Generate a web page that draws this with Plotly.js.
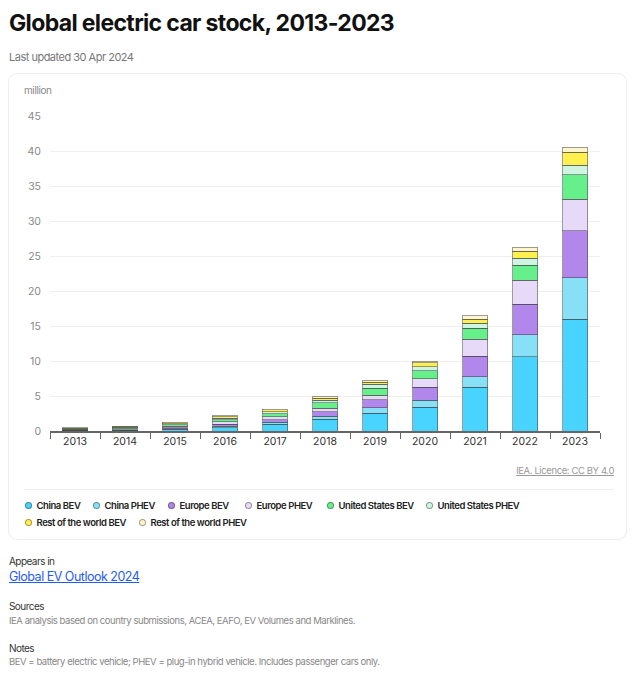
<!DOCTYPE html>
<html>
<head>
<meta charset="utf-8">
<script src="https://cdn.plot.ly/plotly-3.0.1.min.js"></script>
<style>
  html, body { margin:0; padding:0; background:#fff; width:635px; height:680px; overflow:hidden; font-family: Inter, "Noto Sans", sans-serif; }
  .abs { position:absolute; white-space:nowrap; }
  #title { left:9px; top:9px; font-size:23px; font-weight:700; color:#111; letter-spacing:-0.65px; }
  #sub { left:9px; top:50px; font-size:11px; color:#777; letter-spacing:-0.5px; }
  #card { left:8px; top:73px; width:619px; height:467px; border:1px solid #eee; border-radius:9px; box-sizing:border-box; }
  #unit { left:24px; top:84px; font-size:10px; color:#888; letter-spacing:-0.4px; }
  #chart { left:8px; top:100px; width:610px; height:360px; }
  #lic { right:21px; top:465px; font-size:9.5px; color:#999; text-decoration:underline; letter-spacing:-0.4px; }
  #sep { left:24px; top:489px; width:590px; height:1px; background:#eee; }
  .leg { font-size:9.5px; font-weight:600; color:#222; display:flex; align-items:center; letter-spacing:-0.45px; }
  .dot { width:7px; height:7px; border-radius:50%; border:1px solid rgba(0,0,0,0.35); margin-right:5px; box-sizing:border-box; }
  .h { font-size:10px; color:#333; letter-spacing:-0.55px; }
  .g { font-size:9.5px; color:#888; letter-spacing:-0.45px; }
  #link { left:9px; top:569px; font-size:12.5px; color:#1f5bf5; text-decoration:underline; letter-spacing:-0.5px; }
</style>
</head>
<body>
<div class="abs" id="title">Global electric car stock, 2013-2023</div>
<div class="abs" id="sub">Last updated 30 Apr 2024</div>
<div class="abs" id="card"></div>
<div class="abs" id="unit">million</div>
<div class="abs" id="chart"></div>
<div class="abs" id="lic">IEA. Licence: CC BY 4.0</div>
<div class="abs" id="sep"></div>
<div id="legend"></div>
<div class="abs h" style="left:9px;top:555px;">Appears in</div>
<div class="abs" id="link">Global EV Outlook 2024</div>
<div class="abs h" style="left:9px;top:600px;">Sources</div>
<div class="abs g" style="left:9px;top:615px;">IEA analysis based on country submissions, ACEA, EAFO, EV Volumes and Marklines.</div>
<div class="abs h" style="left:9px;top:642px;">Notes</div>
<div class="abs g" style="left:9px;top:656px;">BEV = battery electric vehicle; PHEV = plug-in hybrid vehicle. Includes passenger cars only.</div>
<script>
const years = ["2013","2014","2015","2016","2017","2018","2019","2020","2021","2022","2023"];
const seriesNames = ["China BEV","China PHEV","Europe BEV","Europe PHEV","United States BEV","United States PHEV","Rest of the world BEV","Rest of the world PHEV"];
const seriesColors = ["#48d4ff","#87e0f5","#b287eb","#e6daf8","#66f08c","#cdf5e1","#fff050","#fdf5cd"];
const chinaBEV   = [0.03,0.08,0.25,0.45,0.95,1.67,2.53,3.38,6.24,10.61,16.0];
const chinaPHEV  = [0.01,0.03,0.08,0.25,0.28,0.47,0.80,1.00,1.52,3.15,5.9];
const europeBEV  = [0.05,0.10,0.17,0.30,0.40,0.62,1.10,1.86,2.95,4.38,6.7];
const europePHEV = [0.05,0.10,0.18,0.30,0.40,0.48,0.71,1.19,2.43,3.39,4.5];
const usBEV      = [0.08,0.12,0.20,0.30,0.40,0.80,0.96,1.18,1.53,2.14,3.5];
const usPHEV     = [0.10,0.14,0.19,0.25,0.35,0.34,0.57,0.58,0.72,1.00,1.36];
const rowBEV     = [0.08,0.10,0.12,0.20,0.25,0.29,0.28,0.57,0.61,1.04,1.84];
const rowPHEV    = [0.03,0.04,0.06,0.10,0.10,0.19,0.29,0.24,0.47,0.53,0.73];
const seriesValues = [chinaBEV,chinaPHEV,europeBEV,europePHEV,usBEV,usPHEV,rowBEV,rowPHEV];
const yTicks = [0,5,10,15,20,25,30,35,40,45];

const traces = seriesNames.map((n,i)=>({
  type:'bar', name:n, x:years, y:seriesValues[i],
  marker:{color:seriesColors[i], line:{color:'rgba(60,60,60,0.5)', width:1}},
  width:0.5, hoverinfo:'x+y+name'
}));

Plotly.newPlot('chart', traces, {
  barmode:'stack', showlegend:false,
  width:610, height:360,
  margin:{l:42, r:18, t:16, b:29},
  paper_bgcolor:'rgba(0,0,0,0)', plot_bgcolor:'rgba(0,0,0,0)',
  font:{family:'Inter, "Noto Sans", sans-serif'},
  xaxis:{type:'category', tickson:'boundaries', ticks:'outside', ticklen:6, tickcolor:'#666', tickwidth:1,
         showline:true, linecolor:'#666', linewidth:1.5, showgrid:false,
         tickfont:{size:10.5, color:'#333'}},
  yaxis:{range:[0,45], tickvals:yTicks, showgrid:true, gridcolor:'#eeeeee', gridwidth:1,
         zeroline:false, showline:false, ticks:'', tickfont:{size:10.5, color:'#888'}, ticklabelstandoff:8}
}, {displayModeBar:false, staticPlot:true});

// legend
const legPos = [[24.5,500],[92.5,500],[167.5,500],[244.5,500],[326.5,500],[425.5,500],[24.5,517],[138.5,517]];
const lg = document.getElementById('legend');
seriesNames.forEach((n,i)=>{
  const d = document.createElement('div');
  d.className='abs leg';
  d.style.left=legPos[i][0]+'px'; d.style.top=legPos[i][1]+'px';
  d.innerHTML = '<span class="dot" style="background:'+seriesColors[i]+'"></span>'+n;
  lg.appendChild(d);
});
</script>
</body>
</html>
